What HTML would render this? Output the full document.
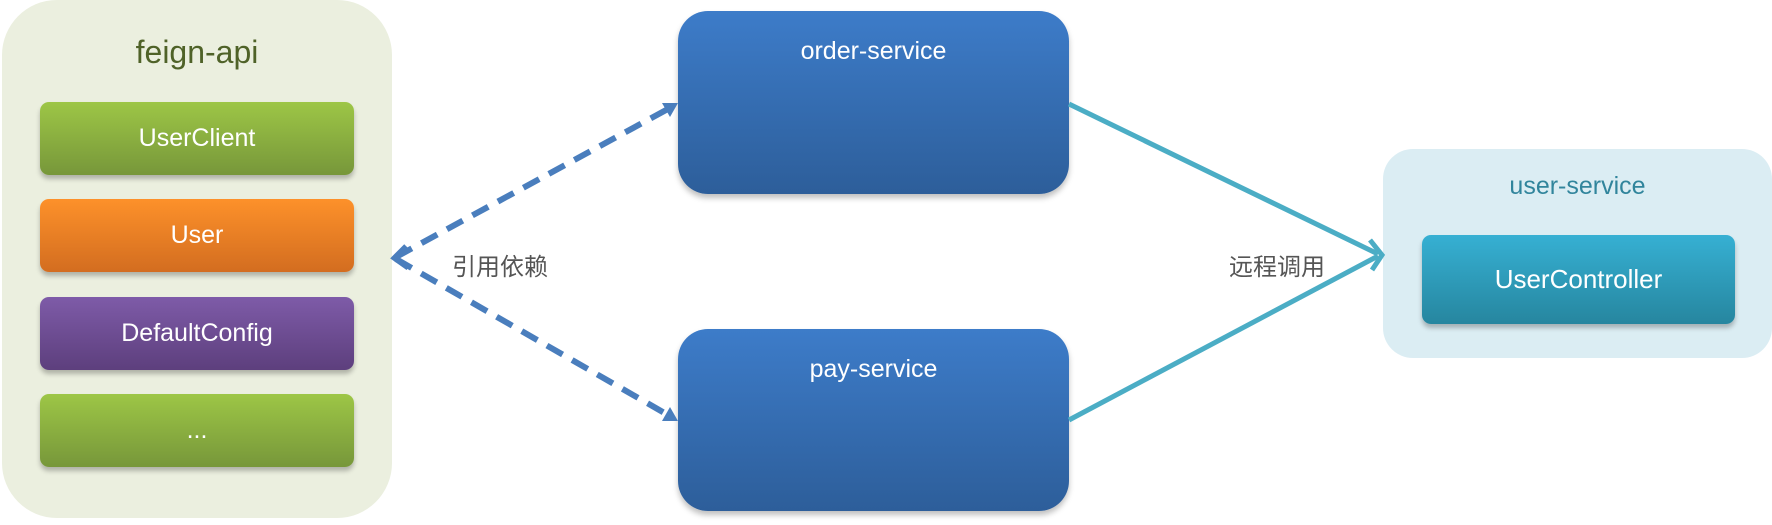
<!DOCTYPE html>
<html><head><meta charset="utf-8"><style>
body{margin:0;width:1772px;height:525px;background:#fff;position:relative;overflow:hidden;font-family:"Liberation Sans","Noto Sans CJK SC",sans-serif}
.a{position:absolute;box-sizing:border-box}
.t{display:flex;align-items:center;justify-content:center;color:#fff;font-size:25px}
.item{left:40px;width:314px;height:73px;border-radius:9px;box-shadow:0 4px 5px rgba(0,0,0,.25)}
.svc{left:678px;width:391px;border-radius:30px;background:linear-gradient(#3d7cc9,#2d5e9a);box-shadow:0 4px 6px rgba(0,0,0,.25);color:#fff;font-size:25px;text-align:center;padding-top:26px}
</style></head><body>
<div class="a" style="left:2px;top:0;width:390px;height:518px;border-radius:55px;background:#ebefdf"></div>
<div class="a" style="left:2px;top:34px;width:390px;text-align:center;font-size:32px;color:#4f6228">feign-api</div>
<div class="a item t" style="top:102px;background:linear-gradient(#9dc646,#77973a)">UserClient</div>
<div class="a item t" style="top:199px;background:linear-gradient(#fd912a,#d36d20)">User</div>
<div class="a item t" style="top:297px;background:linear-gradient(#7e5ba8,#5d3f7d)">DefaultConfig</div>
<div class="a item t" style="top:394px;background:linear-gradient(#9dc646,#77973a)">...</div>
<div class="a svc" style="top:11px;height:183px">order-service</div>
<div class="a svc" style="top:329px;height:182px">pay-service</div>
<div class="a" style="left:1383px;top:149px;width:389px;height:209px;border-radius:30px;background:#dbedf3"></div>
<div class="a" style="left:1383px;top:172px;width:389px;text-align:center;font-size:25px;color:#31859c">user-service</div>
<div class="a t" style="left:1422px;top:235px;width:313px;height:89px;border-radius:9px;background:linear-gradient(#36b0d3,#26869f);box-shadow:0 4px 5px rgba(0,0,0,.25);font-size:26px">UserController</div>
<svg class="a" style="left:0;top:0" width="1772" height="525">
<g stroke="#4a7ebd" stroke-width="6" stroke-dasharray="18,11" fill="none">
<line x1="396" y1="257" x2="668" y2="109"/>
<line x1="396" y1="259" x2="668" y2="415"/>
</g>
<path d="M406 246 L394 258 L408 268" stroke="#4a7ebd" stroke-width="5" fill="none"/>
<polygon points="678,103 662,103 670,117" fill="#4a7ebd"/>
<polygon points="678,421 662,421 670,407" fill="#4a7ebd"/>
<g stroke="#4badc5" stroke-width="5" fill="none">
<line x1="1069" y1="104" x2="1378" y2="254"/>
<line x1="1069" y1="420" x2="1378" y2="256"/>
<path d="M1370 240 L1382 255 L1372 270"/>
</g>
</svg>
<div class="a" style="left:452px;top:247px;font-size:24px;color:#555">引用依赖</div>
<div class="a" style="left:1229px;top:247px;font-size:24px;color:#555">远程调用</div>
</body></html>
